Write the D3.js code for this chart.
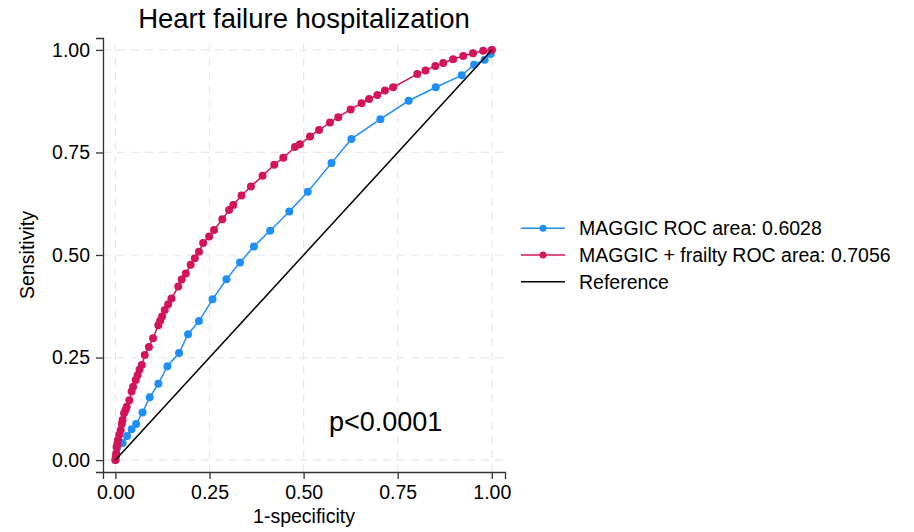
<!DOCTYPE html>
<html>
<head>
<meta charset="utf-8">
<script src="https://cdn.jsdelivr.net/npm/d3@7"></script>
<style>
  body { margin: 0; background: #fff; }
  svg { font-family: "Liberation Sans", Arial, Helvetica, sans-serif; }
  .grid line { stroke: #e8e8e8; stroke-width: 1.2; stroke-dasharray: 8,6; }
  .axis path, .axis line { stroke: #333; stroke-width: 1.3; }
  .axis text { font-size: 19.5px; fill: #000; }
</style>
</head>
<body>
<script>
// ROC points, MAGGIC only
var maggicX = [0, 0.019, 0.031, 0.043, 0.055, 0.072, 0.091, 0.114, 0.138, 0.169, 0.193,
    0.222, 0.258, 0.295, 0.331, 0.368, 0.411, 0.462, 0.511, 0.574, 0.627, 0.704,
    0.779, 0.851, 0.920, 0.953, 0.981, 0.997, 1];
var maggicY = [0, 0.042, 0.059, 0.075, 0.088, 0.116, 0.153, 0.186, 0.229, 0.261, 0.307,
    0.339, 0.392, 0.441, 0.482, 0.521, 0.559, 0.606, 0.654, 0.724, 0.783, 0.831,
    0.876, 0.909, 0.938, 0.964, 0.976, 0.990, 1];

// ROC points, MAGGIC + frailty
var frailX = [0, 0.001, 0.002, 0.003, 0.005, 0.007, 0.010, 0.014, 0.017, 0.019, 0.023,
    0.027, 0.030, 0.037, 0.043, 0.047, 0.054, 0.059, 0.064, 0.070, 0.078, 0.089,
    0.100, 0.114, 0.119, 0.124, 0.131, 0.140, 0.149, 0.167, 0.176, 0.187, 0.200,
    0.211, 0.222, 0.233, 0.249, 0.262, 0.284, 0.302, 0.313, 0.335, 0.360, 0.391,
    0.422, 0.446, 0.477, 0.490, 0.517, 0.541, 0.570, 0.592, 0.625, 0.654, 0.674,
    0.696, 0.716, 0.738, 0.802, 0.824, 0.850, 0.871, 0.897, 0.924, 0.950, 0.977, 1];
var frailY = [0, 0.008, 0.016, 0.032, 0.040, 0.049, 0.062, 0.073, 0.088, 0.098, 0.114,
    0.122, 0.130, 0.146, 0.167, 0.179, 0.195, 0.207, 0.220, 0.232, 0.256, 0.276,
    0.297, 0.329, 0.340, 0.350, 0.366, 0.380, 0.394, 0.423, 0.440, 0.455, 0.476,
    0.492, 0.508, 0.529, 0.545, 0.561, 0.587, 0.610, 0.622, 0.645, 0.667, 0.693,
    0.720, 0.737, 0.763, 0.770, 0.789, 0.805, 0.823, 0.836, 0.855, 0.870, 0.880,
    0.890, 0.901, 0.909, 0.941, 0.950, 0.961, 0.968, 0.977, 0.985, 0.992, 0.998, 1];

var refX = [0, 1];
var refY = [0, 1];

var tickVals = [0, 0.25, 0.5, 0.75, 1];
var legendLabels = ["MAGGIC ROC area: 0.6028", "MAGGIC + frailty ROC area: 0.7056", "Reference"];

var blue = "#1e8ff5",
    red = "#d3145a";

var width = 914, height = 532;

var svg = d3.select("body").append("svg")
    .attr("width", width)
    .attr("height", height);

// plot frame
var xScale = d3.scaleLinear().domain([-0.033, 1.035]).range([103, 505]);
var yScale = d3.scaleLinear().domain([-0.029, 1.029]).range([472, 38]);

// gridlines
var grid = svg.append("g").attr("class", "grid");
grid.selectAll(".vg").data(tickVals).enter().append("line")
    .attr("x1", function(d) { return xScale(d); })
    .attr("x2", function(d) { return xScale(d); })
    .attr("y1", yScale.range()[0])
    .attr("y2", yScale.range()[1]);
grid.selectAll(".hg").data(tickVals).enter().append("line")
    .attr("y1", function(d) { return yScale(d); })
    .attr("y2", function(d) { return yScale(d); })
    .attr("x1", xScale.range()[0])
    .attr("x2", xScale.range()[1]);

// axes
var xAxis = d3.axisBottom(xScale).tickValues(tickVals).tickFormat(d3.format(".2f"))
    .tickSizeOuter(0).tickSize(7).tickPadding(6);
var yAxis = d3.axisLeft(yScale).tickValues(tickVals).tickFormat(d3.format(".2f"))
    .tickSizeOuter(0).tickSize(7).tickPadding(6);

svg.append("g").attr("class", "axis")
    .attr("transform", "translate(0," + yScale.range()[0] + ")")
    .call(xAxis);
svg.append("g").attr("class", "axis")
    .attr("transform", "translate(" + xScale.range()[0] + ",0)")
    .call(yAxis);

// lines
var line = d3.line()
    .x(function(d) { return xScale(d[0]); })
    .y(function(d) { return yScale(d[1]); });

function zipXY(xs, ys) {
    return xs.map(function(x, i) { return [x, ys[i]]; });
}

var maggic = zipXY(maggicX, maggicY),
    frail = zipXY(frailX, frailY),
    ref = zipXY(refX, refY);

svg.append("path").datum(maggic)
    .attr("d", line).attr("fill", "none")
    .attr("stroke", blue).attr("stroke-width", 1.5);
svg.selectAll(".mdot").data(maggic).enter().append("circle")
    .attr("cx", function(d) { return xScale(d[0]); })
    .attr("cy", function(d) { return yScale(d[1]); })
    .attr("r", 4)
    .attr("fill", blue);

svg.append("path").datum(frail)
    .attr("d", line).attr("fill", "none")
    .attr("stroke", red).attr("stroke-width", 1.5);
svg.selectAll(".fdot").data(frail).enter().append("circle")
    .attr("cx", function(d) { return xScale(d[0]); })
    .attr("cy", function(d) { return yScale(d[1]); })
    .attr("r", 4)
    .attr("fill", red);

svg.append("path").datum(ref)
    .attr("d", line).attr("fill", "none")
    .attr("stroke", "#000").attr("stroke-width", 1.5);

// titles
svg.append("text")
    .attr("x", 304).attr("y", 28)
    .attr("text-anchor", "middle")
    .style("font-size", "27.5px")
    .text("Heart failure hospitalization");

svg.append("text")
    .attr("x", 304).attr("y", 523)
    .attr("text-anchor", "middle")
    .style("font-size", "19.5px")
    .text("1-specificity");

svg.append("text")
    .attr("transform", "translate(34,255) rotate(-90)")
    .attr("text-anchor", "middle")
    .style("font-size", "19.5px")
    .text("Sensitivity");

svg.append("text")
    .attr("x", 329).attr("y", 431)
    .style("font-size", "27px")
    .text("p<0.0001");

// legend
var legendColors = [blue, red, "#000"];
var legend = svg.selectAll(".legend").data(legendLabels).enter().append("g")
    .attr("transform", function(d, i) { return "translate(0," + (228.3 + i * 26.7) + ")"; });

legend.append("line")
    .attr("x1", 521).attr("x2", 565)
    .attr("stroke", function(d, i) { return legendColors[i]; })
    .attr("stroke-width", 1.5);
legend.filter(function(d, i) { return i < 2; }).append("circle")
    .attr("cx", 543).attr("r", 3.5)
    .attr("fill", function(d, i) { return legendColors[i]; });
legend.append("text")
    .attr("x", 579).attr("dy", "0.36em")
    .style("font-size", "19.5px")
    .text(function(d) { return d; });
</script>
</body>
</html>
